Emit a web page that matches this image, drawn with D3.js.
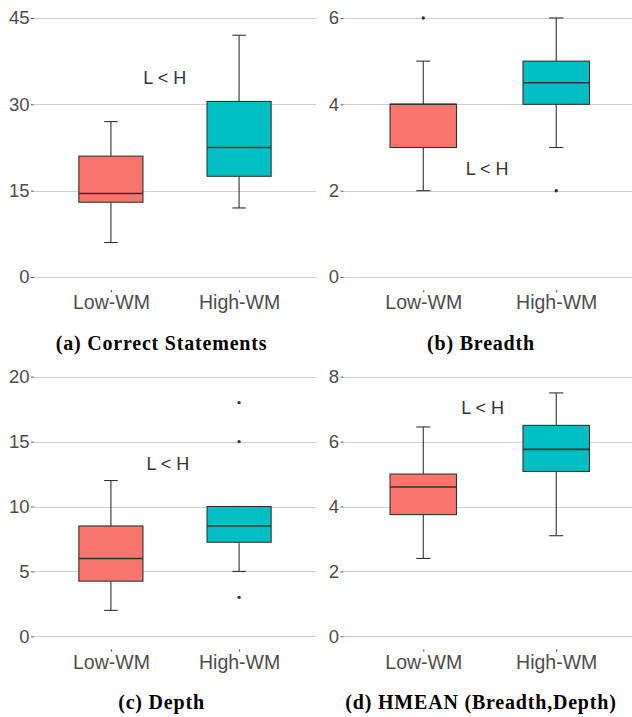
<!DOCTYPE html>
<html>
<head>
<meta charset="utf-8">
<script src="https://cdn.jsdelivr.net/npm/d3@7"></script>
<style>
  html, body { margin: 0; padding: 0; background: #fff; }
  svg { display: block; }
</style>
</head>
<body>
<svg id="chart" width="632" height="717"></svg>
<script>
// ---- data ----
const groups = ["Low-WM", "High-WM"];
const groupColors = ["#F8766D", "#00BFC4"];

const panelTitles = ["(a) Correct Statements", "(b) Breadth", "(c) Depth", "(d) HMEAN (Breadth,Depth)"];
const yTicks = [[0, 15, 30, 45], [0, 2, 4, 6], [0, 5, 10, 15, 20], [0, 2, 4, 6, 8]];
const yMax = [45, 6, 20, 8];

// [lowerWhisker, Q1, median, Q3, upperWhisker] per group
const correctStats = [[6, 13, 14.5, 21, 27], [12, 17.5, 22.5, 30.5, 42]];
const breadthStats = [[2, 3, 4, 4, 5], [3, 4, 4.5, 5, 6]];
const depthStats = [[2, 4.25, 6, 8.5, 12], [5, 7.25, 8.5, 10, 10]];
const hmeanStats = [[2.4, 3.75, 4.6, 5.0, 6.45], [3.1, 5.08, 5.76, 6.5, 7.5]];

const correctOutliers = [[], []];
const breadthOutliers = [[6], [2]];
const depthOutliers = [[], [18, 15, 3]];
const hmeanOutliers = [[], []];

const annotText = "L < H";
const annotX = [1.42, 1.48, 1.445, 1.447];   // position on the discrete axis (1 = Low, 2 = High)
const annotY = [34.5, 2.5, 13.3, 7.04];

const allStats = [correctStats, breadthStats, depthStats, hmeanStats];
const allOutliers = [correctOutliers, breadthOutliers, depthOutliers, hmeanOutliers];

// ---- layout ----
const panels = [
  { x0: 34, x1: 316, y0: 5, y1: 290, titleX: 161.5, titleY: 349.5 },
  { x0: 343.5, x1: 636, y0: 5, y1: 290, titleX: 481, titleY: 349.5 },
  { x0: 34, x1: 316, y0: 363.7, y1: 649.3, titleX: 161.5, titleY: 709 },
  { x0: 343.5, x1: 636, y0: 363.7, y1: 649.3, titleX: 481, titleY: 709 }
];

const svg = d3.select("#chart");
svg.append("defs").append("clipPath").attr("id", "pageclip")
  .append("rect").attr("x", 0).attr("y", 0).attr("width", 632).attr("height", 717);

const root = svg.append("g").attr("clip-path", "url(#pageclip)");

const textColor = "#4d4d4d";
const sansFont = "'Liberation Sans', Arial, Helvetica, sans-serif";
const serifFont = "'Liberation Serif', 'Times New Roman', serif";

panels.forEach((p, i) => {
  const g = root.append("g");
  const exp = yMax[i] * 0.05;
  const y = d3.scaleLinear().domain([-exp, yMax[i] + exp]).range([p.y1, p.y0]);
  const x = d3.scaleLinear().domain([0.4, 2.6]).range([p.x0, p.x1]);
  const unit = x(2) - x(1);

  // gridlines
  g.selectAll(".grid").data(yTicks[i]).enter().append("line")
    .attr("x1", p.x0).attr("x2", p.x1)
    .attr("y1", d => Math.round(y(d)) + 0.5).attr("y2", d => Math.round(y(d)) + 0.5)
    .attr("stroke", "#cfcfcf").attr("stroke-width", 1.1);

  // y axis (ticks + labels)
  const yAxis = d3.axisLeft(y).tickValues(yTicks[i]).tickFormat(d3.format("d")).tickSize(3).tickPadding(1.5);
  const ya = g.append("g").attr("transform", `translate(${p.x0},0)`).call(yAxis);
  ya.select(".domain").remove();
  ya.selectAll(".tick line").attr("stroke", "#333").attr("stroke-width", 0.8);
  ya.selectAll(".tick text").attr("fill", textColor)
    .style("font-family", sansFont).style("font-size", "18.5px");

  // x axis (ticks + labels)
  const xAxis = d3.axisBottom(x).tickValues([1, 2]).tickFormat((d) => groups[d - 1]).tickSize(2.5).tickPadding(3);
  const xa = g.append("g").attr("transform", `translate(0,${p.y1})`).call(xAxis);
  xa.select(".domain").remove();
  xa.selectAll(".tick line").attr("stroke", "#333").attr("stroke-width", 0.8);
  xa.selectAll(".tick text").attr("fill", textColor)
    .style("font-family", sansFont).style("font-size", "19.5px");

  // boxes
  const stats = allStats[i];
  const halfBox = 0.25 * unit;
  const halfCap = 0.053 * unit;
  stats.forEach((s, k) => {
    const cx = x(k + 1);
    const [lo, q1, med, q3, hi] = s;
    // whiskers
    g.append("line").attr("x1", cx).attr("x2", cx).attr("y1", y(q3)).attr("y2", y(hi))
      .attr("stroke", "#333").attr("stroke-width", 1.1);
    g.append("line").attr("x1", cx).attr("x2", cx).attr("y1", y(q1)).attr("y2", y(lo))
      .attr("stroke", "#333").attr("stroke-width", 1.1);
    // caps
    [lo, hi].forEach(v => {
      g.append("line").attr("x1", cx - halfCap).attr("x2", cx + halfCap)
        .attr("y1", y(v)).attr("y2", y(v)).attr("stroke", "#333").attr("stroke-width", 1.1);
    });
    // box
    g.append("rect").attr("x", cx - halfBox).attr("y", y(q3))
      .attr("width", 2 * halfBox).attr("height", Math.max(0.5, y(q1) - y(q3)))
      .attr("fill", groupColors[k]).attr("stroke", "#333").attr("stroke-width", 1.1);
    // median
    g.append("line").attr("x1", cx - halfBox).attr("x2", cx + halfBox)
      .attr("y1", y(med)).attr("y2", y(med)).attr("stroke", "#333").attr("stroke-width", 1.6);
    // outliers
    allOutliers[i][k].forEach(v => {
      g.append("circle").attr("cx", cx).attr("cy", y(v)).attr("r", 1.7).attr("fill", "#333");
    });
  });

  // annotation
  g.append("text").attr("x", x(annotX[i])).attr("y", y(annotY[i]))
    .attr("text-anchor", "middle").attr("dominant-baseline", "central")
    .attr("fill", "#333").style("font-family", sansFont).style("font-size", "18px")
    .text(annotText);

  // panel caption
  svg.append("text").attr("x", p.titleX).attr("y", p.titleY)
    .attr("text-anchor", "middle").attr("fill", "#000")
    .style("font-family", serifFont).style("font-weight", "bold").style("font-size", "20px")
    .style("letter-spacing", "0.8px")
    .text(panelTitles[i]);
});
</script>
</body>
</html>
